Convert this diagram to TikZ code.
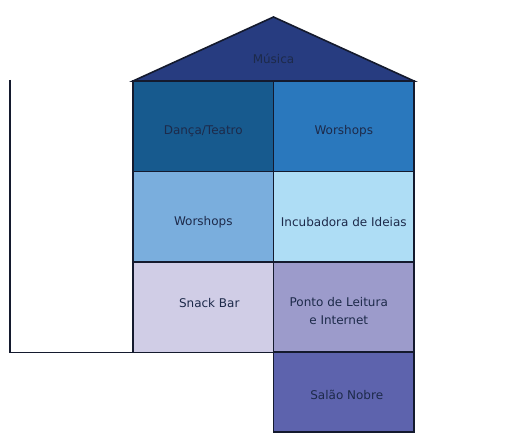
\documentclass[tikz,border=0pt]{standalone}
\usepackage{fontspec}
\setmainfont{DejaVu Sans}
\definecolor{roofc}{HTML}{273C80}
\definecolor{danca}{HTML}{175A8E}
\definecolor{worsh}{HTML}{2A78BD}
\definecolor{worshl}{HTML}{7AAEDD}
\definecolor{incub}{HTML}{AEDDF5}
\definecolor{snack}{HTML}{D0CDE6}
\definecolor{ponto}{HTML}{9C9BCB}
\definecolor{salao}{HTML}{5D63AD}
\definecolor{txt}{HTML}{1D2A4A}
\definecolor{edge}{HTML}{141A2E}
\tikzset{
  cell/.style={draw=edge, line width=1.6pt, minimum width=140.5pt, minimum height=90.5pt,
    inner sep=0pt, outer sep=0pt, anchor=north west},
  lbl/.style={text=txt, align=center, inner sep=0pt, font=\fontsize{12}{17.5}\selectfont},
}
\begin{document}
\begin{tikzpicture}[x=1pt,y=-1pt]
\useasboundingbox (0,0) rectangle (529,433);
\fill[white] (0,0) rectangle (529,433);
% roof
\coordinate (apex) at (273.5,17);
\coordinate (rl) at (133,81);
\coordinate (rr) at (414,81);
\filldraw[fill=roofc, draw=edge, line width=1.6pt, line join=miter] (rl) -- (apex) -- (rr) -- cycle;
\node[lbl] (musica) at (273.5,59) {Música};
% cells
\node[cell, fill=danca] (c11) at (133,81) {};
\node[cell, fill=worsh] (c12) at (273.5,81) {};
\node[cell, fill=worshl] (c21) at (133,171.5) {};
\node[cell, fill=incub] (c22) at (273.5,171.5) {};
\node[cell, fill=snack] (c31) at (133,262) {};
\node[cell, fill=ponto] (c32) at (273.5,262) {};
\node[cell, fill=salao, minimum height=80pt] (c41) at (273.5,352) {};
% labels
\node[lbl] (t11) at ([yshift=-5pt]c11.center) {Dança/Teatro};
\node[lbl] (t12) at ([yshift=-5pt]c12.center) {Worshops};
\node[lbl] (t21) at ([yshift=-5pt]c21.center) {Worshops};
\node[lbl] (t22) at ([yshift=-5pt]c22.center) {Incubadora de Ideias};
\node[lbl] (t31) at ([xshift=6pt,yshift=4pt]c31.center) {Snack Bar};
\node[lbl] (t32) at ([xshift=-5pt,yshift=-4pt]c32.center) {Ponto de Leitura\\e Internet};
\node[lbl] (t41) at ([xshift=3pt,yshift=-3pt]c41.center) {Salão Nobre};
% left line
\coordinate (lt) at (10,80);
\coordinate (lb) at (10,352.5);
\draw[edge, line width=1.6pt] (lt) -- (lb) -- (c31.south west);
\end{tikzpicture}
\end{document}
